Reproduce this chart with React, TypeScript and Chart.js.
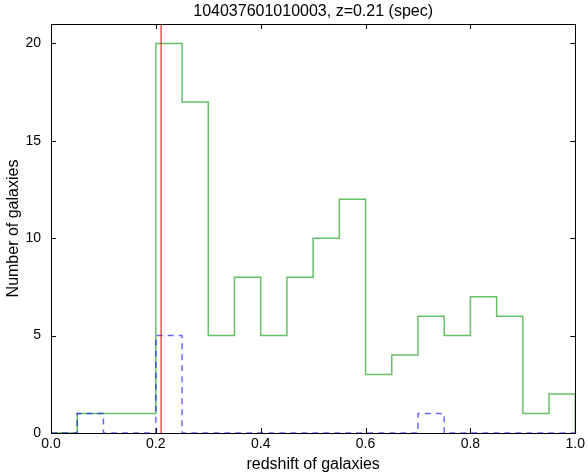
import React, { useEffect, useRef } from "react";
import { Chart, registerables } from "chart.js";

Chart.register(...registerables);

// Histogram bin edges (redshift) and counts per bin
const binEdges = [0.0, 0.05, 0.1, 0.15, 0.2, 0.25, 0.3, 0.35, 0.4, 0.45, 0.5, 0.55, 0.6, 0.65, 0.7, 0.75, 0.8, 0.85, 0.9, 0.95, 1.0];
const photoCounts = [0, 1, 1, 1, 20, 17, 5, 8, 5, 8, 10, 12, 3, 4, 6, 5, 7, 6, 1, 2];
const specCounts = [0, 1, 0, 0, 5, 0, 0, 0, 0, 0, 0, 0, 0, 0, 1, 0, 0, 0, 0, 0];
const targetZ = 0.21;
const yTicks = [0, 5, 10, 15, 20];
const xTicks = [0.0, 0.2, 0.4, 0.6, 0.8, 1.0];
const titleText = "104037601010003, z=0.21 (spec)";

// Outline of a step histogram: each bin drawn as a flat top between its edges,
// starting and ending on the baseline
function stepOutline(edges: number[], counts: number[]) {
  const pts: { x: number; y: number }[] = [{ x: edges[0], y: 0 }];
  counts.forEach((c, i) => {
    pts.push({ x: edges[i], y: c });
    pts.push({ x: edges[i + 1], y: c });
  });
  pts.push({ x: edges[edges.length - 1], y: 0 });
  return pts;
}

const FONT = "'Liberation Sans', Arial, sans-serif";

// Frame on all four sides, inward ticks, and the title over the plot area
const framePlugin = {
  id: "frame",
  afterDatasetsDraw(chart: any) {
    const { ctx, chartArea: a, scales } = chart;
    const tl = 5;
    ctx.save();
    ctx.strokeStyle = "#000";
    ctx.lineWidth = 1;
    ctx.beginPath();
    for (const t of xTicks) {
      const px = Math.round(scales.x.getPixelForValue(t)) + 0.5;
      ctx.moveTo(px, a.bottom);
      ctx.lineTo(px, a.bottom - tl);
      ctx.moveTo(px, a.top);
      ctx.lineTo(px, a.top + tl);
    }
    for (const t of yTicks) {
      const py = Math.round(scales.y.getPixelForValue(t)) + 0.5;
      ctx.moveTo(a.left, py);
      ctx.lineTo(a.left + tl, py);
      ctx.moveTo(a.right, py);
      ctx.lineTo(a.right - tl, py);
    }
    ctx.stroke();
    ctx.strokeRect(Math.round(a.left) + 0.5, Math.round(a.top) + 0.5, Math.round(a.right - a.left), Math.round(a.bottom - a.top));
    ctx.fillStyle = "#000";
    ctx.font = `16px ${FONT}`;
    ctx.textAlign = "center";
    ctx.textBaseline = "bottom";
    ctx.fillText(titleText, (a.left + a.right) / 2, a.top - 4);
    ctx.restore();
  },
};

export default function App() {
  const ref = useRef<HTMLCanvasElement>(null);

  useEffect(() => {
    document.body.style.margin = "0";
    const chart = new Chart(ref.current!, {
      type: "line",
      data: {
        datasets: [
          {
            data: [
              { x: targetZ, y: 0 },
              { x: targetZ, y: 21 },
            ],
            borderColor: "rgba(255,0,0,0.7)",
            borderWidth: 1.5,
            pointRadius: 0,
          },
          {
            data: stepOutline(binEdges, specCounts),
            borderColor: "rgba(0,0,255,0.6)",
            borderWidth: 1.5,
            borderDash: [6, 5],
            pointRadius: 0,
          },
          {
            data: stepOutline(binEdges, photoCounts),
            borderColor: "rgba(0,150,0,0.6)",
            borderWidth: 1.5,
            pointRadius: 0,
          },
        ],
      },
      options: {
        animation: false,
        responsive: false,
        layout: { padding: { top: 24, right: 11, left: 0, bottom: 0 } },
        plugins: {
          legend: { display: false },
          tooltip: { enabled: false },
          title: { display: false },
        },
        scales: {
          x: {
            type: "linear",
            min: 0,
            max: 1,
            afterBuildTicks: (s: any) => {
              s.ticks = xTicks.map((v) => ({ value: v }));
            },
            afterFit: (s: any) => {
              s.height = 43;
            },
            grid: { display: false, drawTicks: false },
            border: { display: false },
            ticks: {
              padding: 3,
              color: "#000",
              font: { family: FONT, size: 14 },
              callback: (v: any) => Number(v).toFixed(1),
              maxRotation: 0,
            },
            title: {
              display: true,
              text: "redshift of galaxies",
              color: "#000",
              font: { family: FONT, size: 16 },
              padding: { top: 0, bottom: 2 },
            },
          },
          y: {
            type: "linear",
            min: 0,
            max: 21,
            afterBuildTicks: (s: any) => {
              s.ticks = yTicks.map((v) => ({ value: v }));
            },
            afterFit: (s: any) => {
              s.width = 51;
            },
            grid: { display: false, drawTicks: false },
            border: { display: false },
            ticks: {
              padding: 10,
              color: "#000",
              font: { family: FONT, size: 14 },
            },
            title: {
              display: true,
              text: "Number of galaxies",
              color: "#000",
              font: { family: FONT, size: 16 },
              padding: { top: 4, bottom: 0 },
            },
          },
        },
      },
      plugins: [framePlugin],
    });
    return () => chart.destroy();
  }, []);

  return <canvas ref={ref} width={588} height={476} style={{ display: "block" }} />;
}
